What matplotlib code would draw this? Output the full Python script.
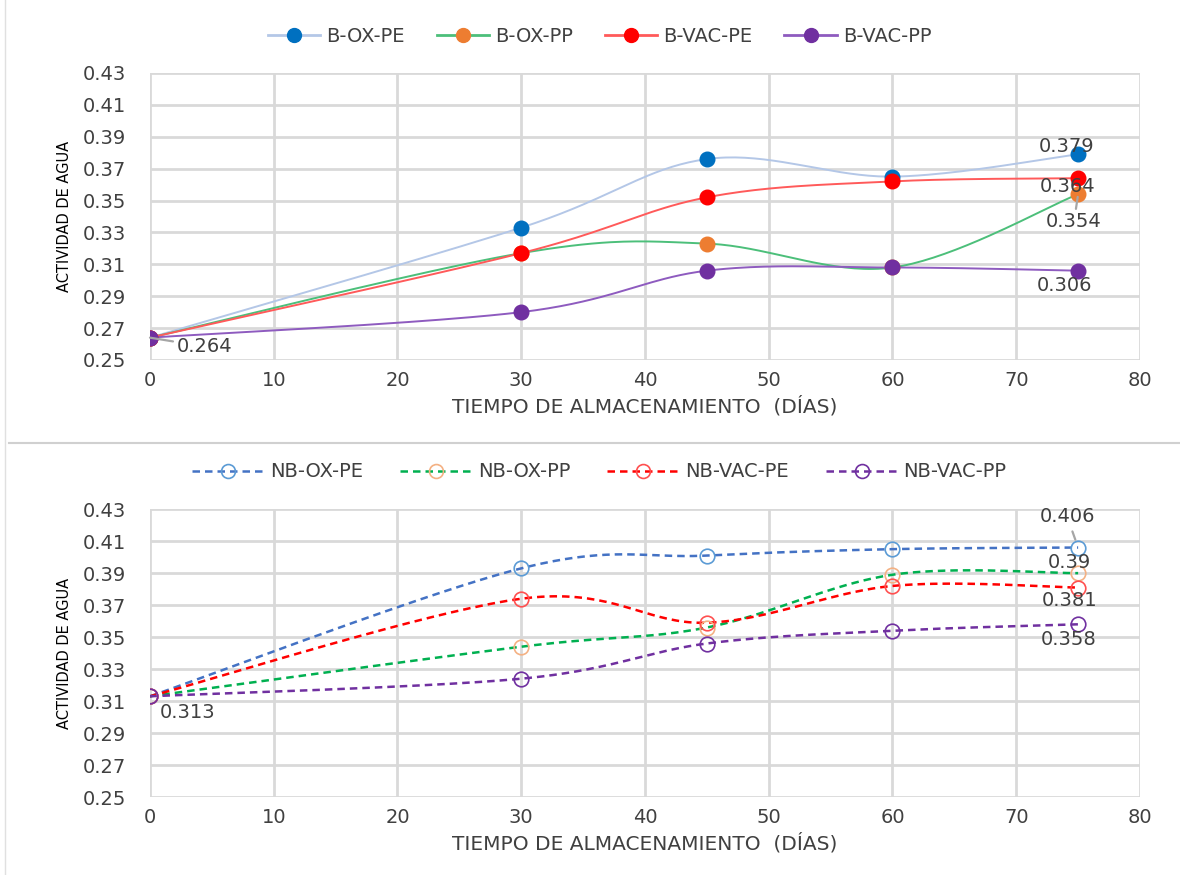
import numpy as np
import matplotlib.pyplot as plt
from matplotlib.lines import Line2D

plt.rcParams['font.family'] = ['DejaVu Sans']

# storage days
dias = [0, 30, 45, 60, 75]

# top panel (B)
b_ox_pe = [0.264, 0.333, 0.376, 0.365, 0.379]
b_ox_pp = [0.264, 0.317, 0.323, 0.308, 0.354]
b_vac_pe = [0.264, 0.317, 0.352, 0.362, 0.364]
b_vac_pp = [0.264, 0.280, 0.306, 0.308, 0.306]

# bottom panel (NB)
nb_ox_pe = [0.313, 0.393, 0.401, 0.405, 0.406]
nb_ox_pp = [0.313, 0.344, 0.356, 0.389, 0.390]
nb_vac_pe = [0.313, 0.374, 0.359, 0.382, 0.381]
nb_vac_pp = [0.313, 0.324, 0.346, 0.354, 0.358]

y_ticks = [0.25, 0.27, 0.29, 0.31, 0.33, 0.35, 0.37, 0.39, 0.41, 0.43]
x_ticks = [0, 10, 20, 30, 40, 50, 60, 70, 80]

GRID = '#d9d9d9'
TXT = '#404040'


def smooth(x, y, n=40):
    # bezier through the points, like a spreadsheet "smoothed line"
    x = np.asarray(x, float)
    y = np.asarray(y, float)
    px = np.concatenate([[x[0]], x, [x[-1]]])
    py = np.concatenate([[y[0]], y, [y[-1]]])
    xs, ys = [], []
    t = np.linspace(0, 1, n)
    for i in range(1, len(px) - 2):
        p0 = np.array([px[i], py[i]])
        p3 = np.array([px[i + 1], py[i + 1]])
        c1 = p0 + (np.array([px[i + 1], py[i + 1]]) - np.array([px[i - 1], py[i - 1]])) / 6
        c2 = p3 - (np.array([px[i + 2], py[i + 2]]) - np.array([px[i], py[i]])) / 6
        pts = ((1 - t) ** 3)[:, None] * p0 + (3 * (1 - t) ** 2 * t)[:, None] * c1 \
            + (3 * (1 - t) * t ** 2)[:, None] * c2 + (t ** 3)[:, None] * p3
        xs.append(pts[:, 0])
        ys.append(pts[:, 1])
    return np.concatenate(xs), np.concatenate(ys)


def style_axes(ax):
    ax.set_xlim(0, 80)
    ax.set_ylim(0.25, 0.43)
    ax.set_xticks(x_ticks)
    ax.set_yticks(y_ticks)
    ax.set_yticklabels([f'{v:.2f}' for v in y_ticks])
    ax.grid(True, color=GRID, linewidth=2)
    ax.set_axisbelow(True)
    for s in ax.spines.values():
        s.set_visible(False)
    ax.tick_params(length=0, labelsize=14, labelcolor=TXT)
    ax.tick_params(axis='y', pad=17)
    ax.tick_params(axis='x', pad=8)
    ax.set_xlabel('TIEMPO DE ALMACENAMIENTO  (DÍAS)', fontsize=14.5, color=TXT, labelpad=4)
    ax.set_ylabel('ACTIVIDAD DE AGUA', fontsize=10.5, color='black', labelpad=8)


fig = plt.figure(figsize=(11.8, 8.75), dpi=100)

# panel separator
fig.add_artist(Line2D([0.008, 1.0], [0.494, 0.494], color='#d0d0d0', lw=1.5))
fig.add_artist(Line2D([0.004, 0.004], [0.0, 1.0], color='#e0e0e0', lw=1.0))

lab_kw = dict(fontsize=14, color=TXT, textcoords='offset pixels', ha='center', va='center',
              zorder=6)


def lead(sa=1, sb=6):
    return dict(arrowstyle='-', color='#a6a6a6', lw=1.6, shrinkA=sa, shrinkB=sb)


# ---------- top panel ----------
ax1 = fig.add_axes([0.1271, 0.5886, 0.839, 0.328])
style_axes(ax1)

top = [
    ('B-OX-PE', b_ox_pe, '#b4c7e7', '#0070c0'),
    ('B-OX-PP', b_ox_pp, '#4cbf7a', '#ed7d31'),
    ('B-VAC-PE', b_vac_pe, '#ff5a5a', '#ff0000'),
    ('B-VAC-PP', b_vac_pp, '#8e5bbf', '#7030a0'),
]
handles = []
for name, vals, lc, mc in top:
    sx, sy = smooth(dias, vals)
    ax1.plot(sx, sy, color=lc, lw=1.4, zorder=3)
    ax1.plot(dias, vals, 'o', color=mc, ms=10.5, zorder=4)
    handles.append(Line2D([], [], color=lc, lw=2, marker='o', ms=10,
                          markerfacecolor=mc, markeredgecolor=mc))
fig.legend(handles, [t[0] for t in top], loc='center', bbox_to_anchor=(0.508, 0.958),
           ncol=4, frameon=False, fontsize=14, columnspacing=1.65, handlelength=2.7,
           handletextpad=0.3, labelcolor=TXT)

ax1.annotate('0.379', (75, b_ox_pe[4]), xytext=(-12, 8), **lab_kw)
ax1.annotate('0.364', (75, b_vac_pe[4]), xytext=(-11, -8), **lab_kw)
ax1.annotate('0.354', (75, b_ox_pp[4]), xytext=(-4, -27), **lab_kw,
             arrowprops=lead(0, 2))
ax1.annotate('0.306', (75, b_vac_pp[4]), xytext=(-14, -15), **lab_kw)
ax1.annotate('0.264', (0, b_vac_pp[0]), xytext=(55, -9), **lab_kw,
             arrowprops=lead(1, 0))

# ---------- bottom panel ----------
ax2 = fig.add_axes([0.1271, 0.0891, 0.839, 0.329])
style_axes(ax2)

bot = [
    ('NB-OX-PE', nb_ox_pe, '#4472c4', '#5b9bd5'),
    ('NB-OX-PP', nb_ox_pp, '#00b050', '#f4b183'),
    ('NB-VAC-PE', nb_vac_pe, '#ff0000', '#ff5050'),
    ('NB-VAC-PP', nb_vac_pp, '#7030a0', '#7030a0'),
]
handles = []
for name, vals, lc, mc in bot:
    sx, sy = smooth(dias, vals)
    ax2.plot(sx, sy, color=lc, lw=1.8, ls=(0, (3, 2)), zorder=3)
    ax2.plot(dias, vals, 'o', ms=10.5, markerfacecolor='none', markeredgecolor=mc,
             markeredgewidth=1.2, zorder=4)
    handles.append(Line2D([], [], color=lc, lw=1.8, ls=(0, (3, 2)), marker='o', ms=10,
                          markerfacecolor='none', markeredgecolor=mc, markeredgewidth=1.2))
fig.legend(handles, [t[0] for t in bot], loc='center', bbox_to_anchor=(0.508, 0.4606),
           ncol=4, frameon=False, fontsize=14, columnspacing=1.9, handlelength=3.7,
           handletextpad=0.3, labelcolor=TXT)

ax2.annotate('0.406', (75, nb_ox_pe[4]), xytext=(-11, 31), **lab_kw,
             arrowprops=lead(2, 6))
ax2.annotate('0.39', (75, nb_ox_pp[4]), xytext=(-9, 11), **lab_kw)
ax2.annotate('0.381', (75, nb_vac_pe[4]), xytext=(-9, -13), **lab_kw)
ax2.annotate('0.358', (75, nb_vac_pp[4]), xytext=(-9, -15), **lab_kw)
ax2.annotate('0.313', (0, nb_vac_pp[0]), xytext=(38, -16), **lab_kw)

fig.savefig('out.png', dpi=100, facecolor='white')
